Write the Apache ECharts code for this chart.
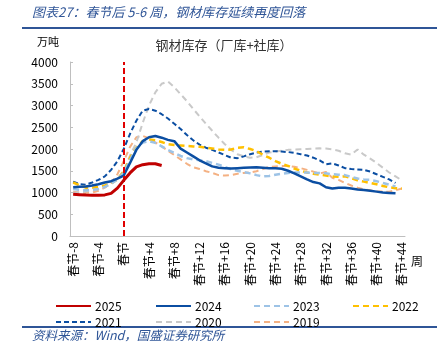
<!DOCTYPE html>
<html>
<head>
<meta charset="utf-8">
<script src="https://cdn.jsdelivr.net/npm/echarts@6/dist/echarts.min.js"></script>
<style>html,body{margin:0;padding:0;background:#fff;}#c{width:448px;height:344px;}</style>
</head>
<body>
<div id="c"></div>
<script>
// categories: weeks relative to Spring Festival
const weeks = [];
for (let w = -8; w <= 44; w++) weeks.push(w === 0 ? '春节' : (w < 0 ? '春节' + w : '春节+' + w));

const yTicks = [0, 500, 1000, 1500, 2000, 2500, 3000, 3500, 4000];

const s2025 = [960, 950, 940, 935, 935, 945, 980, 1100, 1280, 1450, 1590, 1640, 1660, 1660, 1620];
const s2024 = [1120, 1130, 1140, 1160, 1190, 1230, 1260, 1320, 1390, 1680, 1980, 2180, 2270, 2300, 2260, 2210, 2180, 2010, 1920, 1830, 1740, 1670, 1600, 1570, 1560, 1550, 1560, 1570, 1575, 1580, 1570, 1560, 1555, 1545, 1500, 1440, 1370, 1300, 1240, 1210, 1120, 1090, 1110, 1110, 1090, 1070, 1060, 1040, 1020, 1000, 990, 980];
const s2023 = [1080, 1060, 1050, 1060, 1080, 1130, 1200, 1300, 1450, 1750, 2020, 2150, 2180, 2140, 2060, 1980, 1910, 1840, 1790, 1760, 1740, 1720, 1680, 1640, 1590, 1530, 1500, 1470, 1440, 1400, 1370, 1380, 1410, 1430, 1450, 1460, 1460, 1460, 1450, 1450, 1440, 1420, 1410, 1400, 1360, 1320, 1300, 1290, 1260, 1220, 1180, 1140];
const s2022 = [1230, 1170, 1110, 1110, 1130, 1160, 1210, 1300, 1480, 1800, 2030, 2180, 2220, 2200, 2160, 2110, 2090, 2080, 2070, 2060, 2050, 2030, 2010, 1990, 1980, 1990, 2030, 2040, 2000, 1950, 1870, 1800, 1720, 1660, 1610, 1550, 1500, 1460, 1430, 1410, 1390, 1370, 1360, 1370, 1330, 1280, 1250, 1220, 1190, 1150, 1120, 1100, 1090];
const s2021 = [1250, 1190, 1180, 1230, 1290, 1370, 1520, 1720, 2000, 2350, 2650, 2880, 2920, 2880, 2800, 2700, 2580, 2460, 2320, 2200, 2100, 2030, 1980, 1920, 1860, 1800, 1790, 1830, 1880, 1920, 1940, 1950, 1950, 1940, 1930, 1910, 1880, 1850, 1800, 1740, 1650, 1670, 1620, 1560, 1540, 1530, 1520, 1480, 1420, 1360, 1300, 1220];
const s2020 = [1000, 1000, 1020, 1050, 1080, 1120, 1200, 1320, 1500, 1850, 2150, 2600, 3000, 3300, 3500, 3550, 3420, 3260, 3100, 2920, 2750, 2580, 2420, 2260, 2110, 1980, 1880, 1830, 1800, 1810, 1860, 1920, 1940, 1960, 1980, 1990, 1995, 2000, 2010, 2015, 2010, 1990, 1960, 1900, 1870, 1990, 1870, 1780, 1680, 1570, 1460, 1370, 1280];
const s2019 = [1020, 1000, 990, 1000, 1040, 1110, 1220, 1420, 1720, 2050, 2270, 2300, 2250, 2150, 2060, 1960, 1860, 1760, 1660, 1580, 1540, 1490, 1450, 1400, 1390, 1400, 1430, 1450, 1460, 1490, 1540, 1590, 1600, 1610, 1610, 1590, 1560, 1520, 1480, 1440, 1470, 1340, 1290, 1220, 1160, 1110, 1070, 1050, 1030, 1020, 1020, 1050, 1090];

const chart = echarts.init(document.getElementById('c'), null, {renderer: 'canvas'});
const F = '"Microsoft YaHei","Noto Sans CJK SC","DejaVu Sans",sans-serif';

function mk(name, data, color, width, type, z) {
  return {
    name: name, type: 'line', data: data, symbol: 'none', showSymbol: false,
    lineStyle: {color: color, width: width, type: type}, itemStyle: {color: color},
    z: z, animation: false
  };
}

const series = [
  mk('2019', s2019, '#F4B183', 2, [6, 4], 2),
  mk('2020', s2020, '#C9C9C9', 2, [6, 4], 2),
  mk('2021', s2021, '#0B4EA2', 2, [5, 3], 3),
  mk('2022', s2022, '#FFC000', 2.5, [6, 4], 3),
  mk('2023', s2023, '#9DC3E6', 2.5, [6, 4], 3),
  mk('2024', s2024, '#0B4EA2', 2.5, 'solid', 4),
  mk('2025', s2025, '#C00000', 3, 'solid', 5)
];
series[6].markLine = {
  silent: true, symbol: 'none', animation: false,
  label: {show: false},
  lineStyle: {color: '#E00000', width: 2, type: [6, 3]},
  data: [{xAxis: '春节'}]
};

const legPos = [
  ['2025', 50, 295], ['2024', 150, 295], ['2023', 248, 295], ['2022', 347, 295],
  ['2021', 50, 311], ['2020', 150, 311], ['2019', 248, 311]
];
const legends = legPos.map(p => ({
  data: [p[0]], left: p[1], top: p[2], itemWidth: 35, itemHeight: 14, itemGap: 0,
  selectedMode: false, itemStyle: {opacity: 0},
  textStyle: {fontSize: 12, color: '#000', fontFamily: F, padding: [0, 0, 0, -1]}
}));

chart.setOption({
  animation: false,
  backgroundColor: '#fff',
  title: {
    text: '钢材库存（厂库+社库）', left: 'center', top: 34,
    textStyle: {fontSize: 13, fontWeight: 'normal', color: '#333', fontFamily: F}
  },
  legend: legends,
  grid: {left: 70, right: 43, top: 62, bottom: 108},
  xAxis: {
    type: 'category', data: weeks, boundaryGap: true,
    axisLine: {show: true, lineStyle: {color: '#BFBFBF', width: 1}},
    axisTick: {show: false},
    axisLabel: {interval: 3, rotate: 90, fontSize: 12, color: '#000', fontFamily: F, margin: 6},
    splitLine: {show: false}
  },
  yAxis: {
    type: 'value', min: yTicks[0], max: yTicks[yTicks.length - 1], interval: 500,
    axisLine: {show: true, lineStyle: {color: '#BFBFBF', width: 1}},
    axisTick: {show: true, inside: true, length: 3, lineStyle: {color: '#BFBFBF'}},
    axisLabel: {fontSize: 12, color: '#000', fontFamily: F, margin: 12, formatter: v => String(v)},
    splitLine: {show: false}
  },
  graphic: [
    {type: 'text', left: 32, top: 6, style: {text: '图表27：春节后 5-6 周，钢材库存延续再度回落', fontSize: 13, fontStyle: 'italic', fill: '#2F5597', fontFamily: F}},
    {type: 'rect', shape: {x: 22, y: 27, width: 415, height: 2}, style: {fill: '#2F5597'}},
    {type: 'text', left: 37, top: 36, style: {text: '万吨', fontSize: 11, fill: '#000', fontFamily: F}},
    {type: 'text', left: 411, top: 255, style: {text: '周', fontSize: 12, fill: '#000', fontFamily: F}},
    {type: 'rect', shape: {x: 22, y: 326, width: 415, height: 2}, style: {fill: '#2F5597'}},
    {type: 'text', left: 32, top: 329, style: {text: '资料来源：Wind，国盛证券研究所', fontSize: 12.5, fontStyle: 'italic', fill: '#2F5597', fontFamily: F}}
  ],
  series: series
});
</script>
</body>
</html>
